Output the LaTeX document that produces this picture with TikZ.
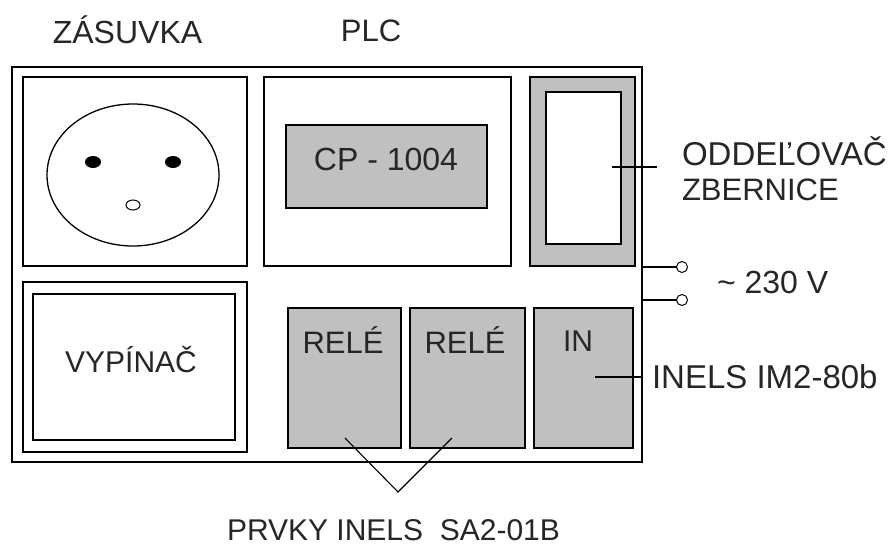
\documentclass[tikz,border=0pt]{standalone}
\usepackage{fontspec}
\setmainfont{Liberation Sans}
\definecolor{panelgrey}{RGB}{192,192,192}
\newcommand{\fsz}[1]{\fontsize{#1}{#1}\selectfont}
\tikzset{
  x=1pt,y=-1pt,
  boxplain/.style={draw=black,line width=1.4pt,fill=white,inner sep=0pt,outer sep=0pt,anchor=north west},
  boxgrey/.style={boxplain,fill=panelgrey},
  roundel/.style={ellipse,draw=black,line width=1.3pt,fill=white,inner sep=0pt,outer sep=0pt},
  pin/.style={ellipse,draw=black,line width=1pt,fill=black,inner sep=0pt,outer sep=0pt,minimum width=15pt,minimum height=11pt},
  lead/.style={draw=black,line width=1.1pt},
  lbl/.style={inner sep=0pt,outer sep=0pt,anchor=base,text=black!85},
  lbll/.style={lbl,anchor=base west},
}
\usetikzlibrary{shapes.geometric}
\begin{document}
\begin{tikzpicture}
\useasboundingbox (0,0) rectangle (888,549);
\fill[white] (0,0) rectangle (888,549);
% housing
\node[boxplain,minimum width=630pt,minimum height=395pt] (housing) at (12,67) {};
% socket
\node[boxplain,minimum width=224pt,minimum height=189pt] (socketbox) at (23,77) {};
\node[roundel,minimum width=172pt,minimum height=142pt] (socket) at (133,175) {};
\node[pin] (pinl) at (93,162) {};
\node[pin] (pinr) at (173,162) {};
\node[roundel,line width=1pt,minimum width=14pt,minimum height=10pt] (pine) at (133,205) {};
% PLC
\node[boxplain,minimum width=247pt,minimum height=189pt] (plcbox) at (264,77) {};
\node[boxgrey,minimum width=201pt,minimum height=83pt] (cpu) at (286,125) {};
% bus separator
\node[boxgrey,minimum width=105pt,minimum height=189pt] (sepout) at (530,77) {};
\node[boxplain,minimum width=75pt,minimum height=152pt] (sepin) at (546,92) {};
% switch
\node[boxplain,minimum width=224pt,minimum height=170pt] (swout) at (23,282) {};
\node[boxplain,minimum width=202pt,minimum height=146pt] (swin) at (33,294) {};
% modules
\node[boxgrey,minimum width=113pt,minimum height=140pt] (relea) at (288,308) {};
\node[boxgrey,minimum width=115pt,minimum height=140pt] (releb) at (410,308) {};
\node[boxgrey,minimum width=99pt,minimum height=140pt] (inmod) at (534,308) {};
% labels
\node[lbl,font=\fsz{32}] (tzas) at (127.5,43) {ZÁSUVKA};
\node[lbl,font=\fsz{31}] (tplc) at (371,41) {PLC};
\node[lbl,font=\fsz{32}] (tcp) at (386,170) {CP - 1004};
\node[lbl,font=\fsz{30}] (tvyp) at (131,372) {VYPÍNAČ};
\node[lbl,font=\fsz{31}] (trea) at (343,353) {RELÉ};
\node[lbl,font=\fsz{31}] (treb) at (465,353) {RELÉ};
\node[lbl,font=\fsz{30}] (tin) at (578,351) {IN};
\node[lbll,font=\fsz{33}] (todd) at (682,165) {ODDEĽOVAČ};
\node[lbll,font=\fsz{31}] (tzbe) at (682,200) {ZBERNICE};
\node[lbll,font=\fsz{32}] (tvolt) at (717,293) {\textasciitilde\ 230 V};
\node[lbll,font=\fsz{33}] (tinels) at (652,388) {INELS IM2-80b};
\node[lbll,font=\fsz{30}] (tprv) at (227,540) {PRVKY INELS\ \ SA2-01B};
% terminals
\node[roundel,line width=1pt,minimum width=11pt,minimum height=11pt] (terma) at (682,267) {};
\node[roundel,line width=1pt,minimum width=11pt,minimum height=11pt] (termb) at (682,300) {};
\draw[lead] (housing.east |- terma) -- (terma);
\draw[lead] (housing.east |- termb) -- (termb);
% leaders
\coordinate (sepa) at (612,167);
\coordinate (sepb) at (657,167);
\draw[lead] (sepa) -- (sepb);
\coordinate (ina) at (595,377);
\coordinate (inb) at (643,377);
\draw[lead] (ina) -- (inb);
\coordinate (va) at (345,438);
\coordinate (vb) at (398,492);
\coordinate (vc) at (452,438);
\draw[lead] (va) -- (vb) -- (vc);
\end{tikzpicture}
\end{document}
